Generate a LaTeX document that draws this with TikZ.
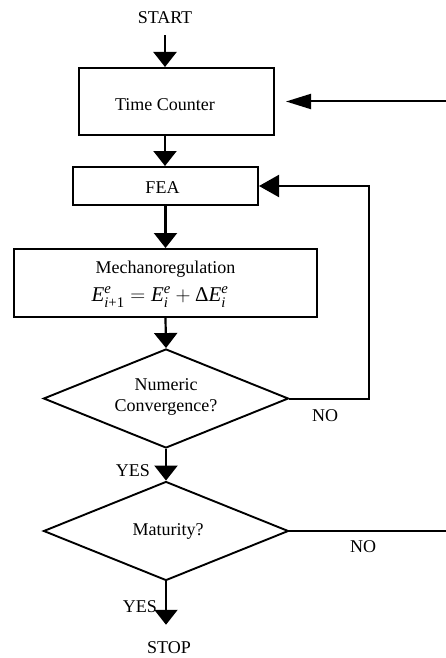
\documentclass[tikz,border=0pt]{standalone}
\usepackage{amsmath}
\usepackage{fontspec}
\setmainfont{Liberation Serif}
\usetikzlibrary{arrows.meta,shapes.geometric}
\newcommand{\ti}[1]{\textit{#1}}
\begin{document}
\begin{tikzpicture}[x=1pt,y=-1pt,
  every node/.style={font=\fontsize{18}{21}\selectfont, inner sep=0pt},
  box/.style={draw, line width=2pt, rectangle},
  dia/.style={draw, line width=1.9pt, diamond, minimum width=245pt, minimum height=99pt, inner sep=0pt},
  arr/.style={line width=2.2pt, -{Triangle[length=15pt,width=23pt]}},
  conn/.style={line width=2pt},
]
\useasboundingbox (0,0) rectangle (446,658);
\node (start) at (165,18) {START};
\node[box, minimum width=195pt, minimum height=67pt] (tc) at (176.5,101.5) {};
\node (tctext) at (165,105) {Time Counter};
\node[box, minimum width=185pt, minimum height=38pt] (fea) at (165.5,186) {};
\node (featext) at (162.5,188) {FEA};
\node[box, minimum width=303pt, minimum height=68pt] (mech) at (165.5,283) {};
\node (mechtext) at (165.5,269) {Mechanoregulation};
\node[font=\fontsize{21}{24}\selectfont] (eq) at (160,297) {$\ti{E}^{\ti{e}}_{\ti{i}\textrm{+1}} = \ti{E}^{\ti{e}}_{\ti{i}} + \textrm{Δ}\ti{E}^{\ti{e}}_{\ti{i}}$};
\node[dia] (d1) at (166,398.5) {};
\node[align=center] (d1t) at (166,397) {Numeric\\Convergence?};
\node[dia] (d2) at (166,531) {};
\node (d2t) at (168,531) {Maturity?};
\node (stop) at (169,648) {STOP};
\node (no1) at (325,416) {NO};
\node (no2) at (363,547) {NO};
\node (yes1) at (133,471) {YES};
\node (yes2) at (140,607) {YES};
\coordinate (fb) at (369,0);
\coordinate (r1) at (446,101.5);
\coordinate (r2) at (446,531);

\draw[arr, shorten <=11pt] (start.south) -- (start.south |- tc.north);
\draw[arr] (start.south |- tc.south) -- (start.south |- fea.north);
\draw[arr] (fea.south) -- (mech.north);
\draw[arr] (mech.south) -- (d1.north);
\draw[arr] (d1.south) -- (d2.north);
\draw[arr, shorten >=17pt] (d2.south) -- (d2.south |- stop.north);
\draw[line width=2pt, -{Triangle[length=20pt,width=22pt]}] (d1.east) -- (d1.east -| fb) -- (fb |- fea.east) -- (fea.east);
\draw[conn] (d2.east) -- (r2);
\draw[line width=2pt, -{Triangle[length=25pt,width=15pt]}, shorten >=11pt] (r1) -- (tc.east);
\end{tikzpicture}
\end{document}
